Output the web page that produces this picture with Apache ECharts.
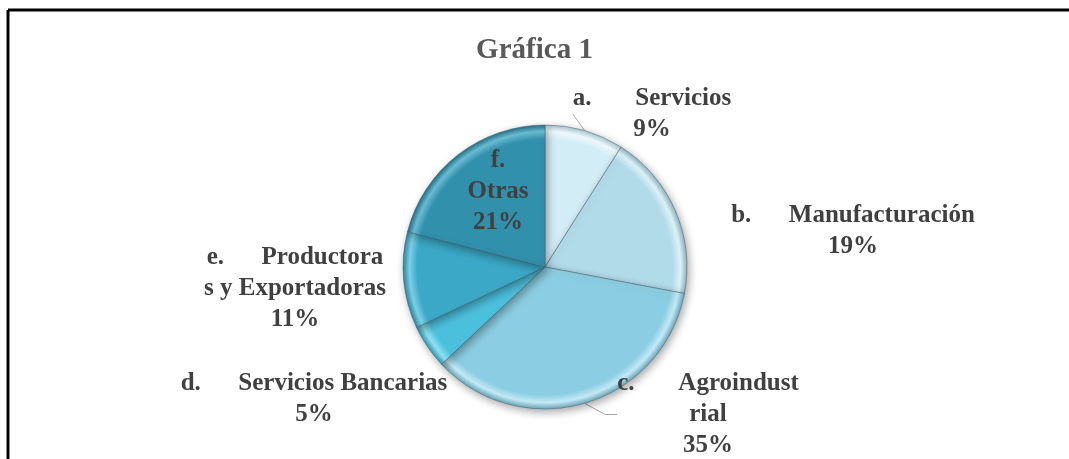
<!DOCTYPE html>
<html>
<head>
<meta charset="utf-8">
<script src="https://cdn.jsdelivr.net/npm/echarts@6/dist/echarts.min.js"></script>
<style>
html,body{margin:0;padding:0;background:#fff;}
#chart{width:1069px;height:459px;}
</style>
</head>
<body>
<div id="chart"></div>
<script>
// ---- data ----
const categories = ['a.       Servicios', 'b.      Manufacturación', 'c.       Agroindust\nrial', 'd.      Servicios Bancarias', 'e.      Productora\ns y Exportadoras', 'f.\nOtras'];
const values = [9, 19, 35, 5, 11, 21];
const titleText = 'Gráfica 1';

// ---- styles ----
const palette = ['#d3edf6', '#b2dbea', '#8bcde2', '#4bc0dc', '#3aa8c6', '#3190ab'];
const rims    = ['#eef9fd', '#dcf1f8', '#c2e9f5', '#8fe0f3', '#7cd0e6', '#6abdd4'];
const darks   = ['#a9c7d1', '#8fb3c0', '#6aa7ba', '#2f98b2', '#2a86a0', '#216f86'];
// label anchor positions (center-top of each label block)
const labelPos = [[652, 83], [853, 200], [708, 368], [314, 368], [295, 242], [498, 145]];
const showLine = [true, false, true, false, false, false];

const chart = echarts.init(document.getElementById('chart'));
const W = 1069, H = 459;
const cx = 545, cy = 267, R = 142;

function grad(i) {
  return new echarts.graphic.RadialGradient(cx, cy, R, [
    {offset: 0, color: palette[i]},
    {offset: 0.9, color: palette[i]},
    {offset: 0.955, color: rims[i]},
    {offset: 1, color: darks[i]}
  ], true);
}

const data = categories.map((c, i) => ({
  name: c,
  value: values[i],
  itemStyle: {color: grad(i)},
  labelLine: {show: showLine[i]}
}));

chart.setOption({
  animation: false,
  backgroundColor: '#fff',
  title: {
    text: titleText,
    left: 'center',
    top: 31,
    textStyle: {fontFamily: 'Liberation Serif', fontWeight: 'bold', fontSize: 29, color: '#595959'}
  },
  graphic: [
    {type: 'line', shape: {x1: 8, y1: 10, x2: W, y2: 10}, style: {stroke: '#000', lineWidth: 3}},
    {type: 'line', shape: {x1: 8, y1: 10, x2: 8, y2: H}, style: {stroke: '#000', lineWidth: 3}}
  ],
  series: [{
    type: 'pie',
    center: [cx, cy],
    radius: R,
    startAngle: 90,
    clockwise: true,
    data: data,
    itemStyle: {
      borderColor: 'rgba(60,90,100,0.45)',
      borderWidth: 1,
      shadowBlur: 8,
      shadowColor: 'rgba(0,0,0,0.35)',
      shadowOffsetX: 2,
      shadowOffsetY: 3
    },
    label: {
      show: true,
      formatter: p => p.name + '\n' + Math.round(p.percent) + '%',
      fontFamily: 'Liberation Serif',
      fontWeight: 'bold',
      fontSize: 25,
      lineHeight: 31,
      color: '#404040',
      align: 'center'
    },
    labelLine: {
      lineStyle: {color: '#a6a6a6', width: 1},
      length: 10,
      length2: 12
    },
    labelLayout: function (params) {
      const p = labelPos[params.dataIndex];
      return {x: p[0], y: p[1], align: 'center', verticalAlign: 'top'};
    },
    emphasis: {disabled: true}
  }]
});
</script>
</body>
</html>
